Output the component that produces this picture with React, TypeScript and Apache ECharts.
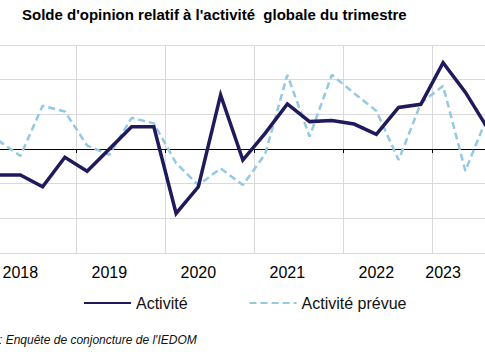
import React, { useEffect, useRef } from "react";
import * as echarts from "echarts";

// Quarters (first and last are partly outside the visible frame)
const quarters = [
  "q00", "q01", "q02", "q03", "q04", "q05", "q06", "q07", "q08", "q09", "q10", "q11",
  "q12", "q13", "q14", "q15", "q16", "q17", "q18", "q19", "q20", "q21", "q22",
];
const yearLabels = ["2018", "2019", "2020", "2021", "2022", "2023"];
const yearLabelIndex = [1, 5, 9, 13, 17, 20];

const activite = [
  -7.5, -7.5, -10.9, -2.4, -6.4, 0, 6.4, 6.4, -18.6, -10.9, 15.6, -3.2,
  4.5, 13, 7.9, 8.2, 7.2, 4.2, 12, 12.9, 24.9, 16.4, 6,
];
const activitePrevue = [
  2.5, -2.0, 12.5, 10.8, 1.0, -1.7, 9.0, 7.4, -4.1, -10.4, -5.6, -10.4,
  -1.5, 21.4, 3.6, 21.4, 16.1, 11.0, -3.2, 13.2, 18.2, -6.3, 9.5,
];

const seriesNames = ["Activité", "Activité prévue"];
const titleText = "Solde d'opinion relatif à l'activité  globale du trimestre";
const sourceText = ": Enquête de conjoncture de l'IEDOM";

export default function App() {
  const ref = useRef<HTMLDivElement>(null);
  useEffect(() => {
    if (!ref.current) return;
    const chart = echarts.init(ref.current, null, { renderer: "svg" });
    chart.setOption({
      animation: false,
      backgroundColor: "#ffffff",
      title: {
        text: titleText,
        left: 22,
        top: 7,
        padding: 0,
        textStyle: {
          fontFamily: "Liberation Sans",
          fontWeight: "bold",
          fontSize: 15,
          color: "#000000",
        },
      },
      legend: {
        left: 83,
        top: 295,
        padding: 0,
        itemWidth: 47,
        itemHeight: 14,
        itemGap: 61,
        data: seriesNames,
        itemStyle: { opacity: 0 },
        textStyle: { fontFamily: "Liberation Sans", fontSize: 16, color: "#111111" },
      },
      grid: {
        left: -13,
        right: -13.7,
        top: 45,
        bottom: 107,
        containLabel: false,
        outerBoundsMode: "none",
      },
      xAxis: [
        {
          type: "category",
          data: quarters,
          boundaryGap: true,
          axisLine: { show: false, onZero: false },
          axisTick: { show: false },
          splitLine: { show: false },
          axisLabel: {
            interval: 0,
            margin: 11,
            fontFamily: "Liberation Sans Narrow, Liberation Sans",
            fontSize: 16,
            color: "#000000",
            formatter: (_v: string, i: number) => {
              const p = yearLabelIndex.indexOf(i);
              return p >= 0 ? yearLabels[p] : "";
            },
          },
        },
        {
          // quarter-boundary scale: year separators (gridlines + ticks on the zero line)
          type: "value",
          min: 0,
          max: quarters.length,
          interval: 4,
          position: "bottom",
          axisLine: { show: true, onZero: true, lineStyle: { color: "#000000", width: 1.2 } },
          axisTick: { show: true, length: 4, lineStyle: { color: "#000000", width: 1 } },
          axisLabel: { show: false },
          splitLine: { show: true, lineStyle: { color: "#d9d9d9", width: 1 } },
        },
      ],
      yAxis: {
        type: "value",
        min: -30,
        max: 30,
        interval: 10,
        axisLine: { show: false },
        axisTick: { show: false },
        axisLabel: { show: false },
        splitLine: { show: true, lineStyle: { color: "#d9d9d9", width: 1 } },
      },
      series: [
        {
          name: seriesNames[0],
          type: "line",
          xAxisIndex: 0,
          data: activite,
          symbol: "none",
          z: 3,
          lineStyle: { color: "#1e1a5c", width: 3.5, join: "miter" },
          itemStyle: { color: "#1e1a5c" },
        },
        {
          name: seriesNames[1],
          type: "line",
          xAxisIndex: 0,
          data: activitePrevue,
          symbol: "none",
          z: 2,
          lineStyle: { color: "#95c8e2", width: 2.5, type: [7, 4] },
          itemStyle: { color: "#95c8e2" },
        },
      ],
      graphic: [
        {
          type: "text",
          x: -1,
          y: 340,
          style: {
            text: sourceText,
            fontFamily: "Liberation Sans",
            fontStyle: "italic",
            fontSize: 12,
            fill: "#111111",
            verticalAlign: "middle",
          },
        },
      ],
    });
    return () => chart.dispose();
  }, []);
  return (
    <div
      ref={ref}
      style={{ position: "absolute", left: 0, top: 0, width: 485, height: 360 }}
    />
  );
}
